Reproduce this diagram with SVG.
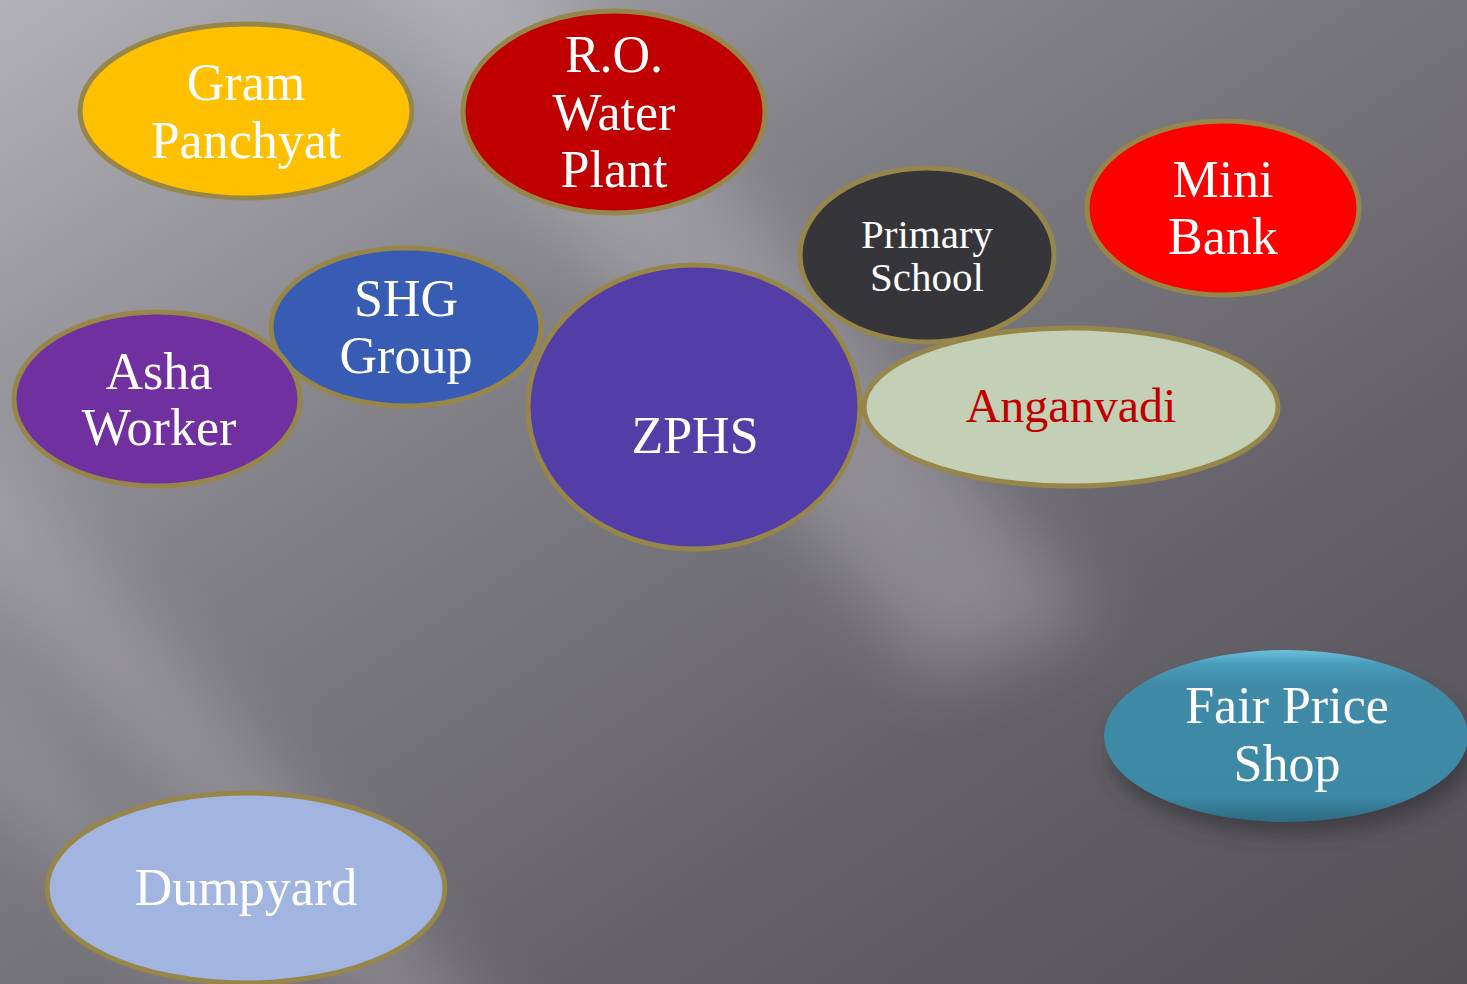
<svg xmlns="http://www.w3.org/2000/svg" width="1467" height="984" viewBox="0 0 1467 984">
<defs>
<linearGradient id="bg" x1="0" y1="0" x2="1" y2="1">
<stop offset="0" stop-color="#b3b1b8"/>
<stop offset="0.35" stop-color="#838188"/>
<stop offset="0.7" stop-color="#646268"/>
<stop offset="1" stop-color="#545257"/>
</linearGradient>
<filter id="blur" x="-30%" y="-30%" width="160%" height="160%"><feGaussianBlur stdDeviation="35"/></filter>
<filter id="shadow" x="-20%" y="-20%" width="150%" height="160%"><feGaussianBlur stdDeviation="10"/></filter>
<linearGradient id="fps" x1="0" y1="0" x2="0" y2="1">
<stop offset="0" stop-color="#6cc0dc"/>
<stop offset="0.08" stop-color="#4a9dba"/>
<stop offset="0.2" stop-color="#3f8ba7"/>
<stop offset="0.85" stop-color="#3d89a5"/>
<stop offset="1" stop-color="#2c6a82"/>
</linearGradient>
<style>
.n{stroke:#97864a;stroke-width:5}
.t{font-family:"Liberation Serif","DejaVu Serif",serif;fill:#ffffff;text-anchor:middle;font-size:52px}
.s{font-size:41px}
</style>
</defs>
<rect width="1467" height="984" fill="url(#bg)"/>
<g opacity="0.28" filter="url(#blur)">
<polygon points="300,-100 480,-100 1100,620 930,680" fill="#dcdae0"/>
<polygon points="-100,480 -20,430 560,1100 420,1100" fill="#cfcdd3"/>
<polygon points="-100,680 -40,650 360,1100 280,1100" fill="#c4c2c8"/>
</g>
<g id="connectors"/>
<g id="gram-panchyat">
<ellipse class="n" cx="246" cy="111" rx="166" ry="87" fill="#ffc000"/>
<text class="t" x="246" y="100">Gram</text>
<text class="t" x="246" y="158">Panchyat</text>
</g>
<g id="ro-water-plant">
<ellipse class="n" cx="614" cy="112" rx="151" ry="101" fill="#c00000"/>
<text class="t" x="614" y="72">R.O.</text>
<text class="t" x="614" y="130">Water</text>
<text class="t" x="614" y="187">Plant</text>
</g>
<g id="mini-bank">
<ellipse class="n" cx="1223" cy="208" rx="136" ry="87" fill="#ff0000"/>
<text class="t" x="1223" y="197">Mini</text>
<text class="t" x="1223" y="254">Bank</text>
</g>
<g id="primary-school">
<ellipse class="n" cx="927" cy="255" rx="127" ry="87" fill="#363539"/>
<text class="t s" x="927" y="248">Primary</text>
<text class="t s" x="927" y="291">School</text>
</g>
<g id="shg-group">
<ellipse class="n" cx="406" cy="327" rx="135" ry="79" fill="#385cb4"/>
<text class="t" x="406" y="316">SHG</text>
<text class="t" x="406" y="373">Group</text>
</g>
<g id="asha-worker">
<ellipse class="n" cx="157" cy="399" rx="143" ry="87" fill="#7030a0"/>
<text class="t" x="159" y="389">Asha</text>
<text class="t" x="159" y="445">Worker</text>
</g>
<g id="zphs">
<ellipse class="n" cx="694" cy="407" rx="166" ry="142" fill="#533ea8"/>
<text class="t" x="695" y="453">ZPHS</text>
</g>
<g id="anganvadi">
<ellipse class="n" cx="1071" cy="407" rx="207" ry="79" fill="#c4d0b5"/>
<text class="t" x="1071" y="422" style="fill:#c00000;font-size:48px">Anganvadi</text>
</g>
<g id="fair-price-shop">
<ellipse cx="1292" cy="752" rx="182" ry="82" fill="#2e2c30" opacity="0.6" filter="url(#shadow)"/>
<ellipse cx="1286" cy="736" rx="182" ry="86" fill="url(#fps)"/>
<text class="t" x="1287" y="723">Fair Price</text>
<text class="t" x="1287" y="781">Shop</text>
</g>
<g id="dumpyard">
<ellipse class="n" cx="246" cy="888" rx="199" ry="95" fill="#a2b5e0"/>
<text class="t" x="246" y="905">Dumpyard</text>
</g>
</svg>
